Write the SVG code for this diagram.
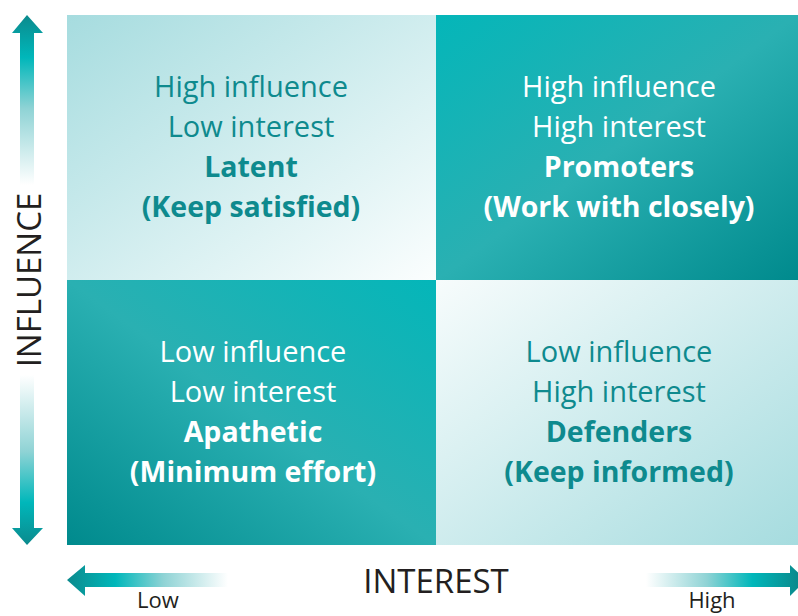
<svg xmlns="http://www.w3.org/2000/svg" width="798" height="616" viewBox="0 0 798 616">
<defs>
<linearGradient id="gTL" x1="0" y1="0" x2="1" y2="1"><stop offset="0" stop-color="#a6dcdf"/><stop offset="1" stop-color="#fbfefe"/></linearGradient>
<linearGradient id="gBR" x1="0" y1="0" x2="1" y2="1"><stop offset="0" stop-color="#f7fcfc"/><stop offset="1" stop-color="#a6dcdf"/></linearGradient>
<linearGradient id="gTR" x1="0" y1="0" x2="1" y2="1"><stop offset="0" stop-color="#04b6b9"/><stop offset="0.5" stop-color="#2ab0b2"/><stop offset="1" stop-color="#008a8d"/></linearGradient>
<linearGradient id="gBL" x1="1" y1="0" x2="0" y2="1"><stop offset="0" stop-color="#04b6b9"/><stop offset="0.5" stop-color="#2ab0b2"/><stop offset="1" stop-color="#008a8d"/></linearGradient>
<linearGradient id="gUp" gradientUnits="userSpaceOnUse" x1="0" y1="15" x2="0" y2="185"><stop offset="0" stop-color="#0b8a8d"/><stop offset="0.25" stop-color="#00b7ba"/><stop offset="0.55" stop-color="#8fd3d5"/><stop offset="1" stop-color="#ffffff"/></linearGradient>
<linearGradient id="gDn" gradientUnits="userSpaceOnUse" x1="0" y1="545" x2="0" y2="375"><stop offset="0" stop-color="#0b8a8d"/><stop offset="0.25" stop-color="#00b7ba"/><stop offset="0.55" stop-color="#8fd3d5"/><stop offset="1" stop-color="#ffffff"/></linearGradient>
<linearGradient id="gLf" gradientUnits="userSpaceOnUse" x1="67" y1="0" x2="228" y2="0"><stop offset="0" stop-color="#0b8a8d"/><stop offset="0.3" stop-color="#00b7ba"/><stop offset="0.6" stop-color="#8fd3d5"/><stop offset="1" stop-color="#ffffff"/></linearGradient>
<linearGradient id="gRt" gradientUnits="userSpaceOnUse" x1="798" y1="0" x2="646" y2="0"><stop offset="0" stop-color="#0b8a8d"/><stop offset="0.3" stop-color="#00b7ba"/><stop offset="0.6" stop-color="#8fd3d5"/><stop offset="1" stop-color="#ffffff"/></linearGradient>
<style>
.q{font-family:"Open Sans","Liberation Sans",sans-serif;font-size:29px;text-anchor:middle}
.b{font-weight:bold;font-size:28.5px}
.teal{fill:#0e8a8e}
.white{fill:#ffffff}
.ax{font-family:"Open Sans","Liberation Sans",sans-serif;fill:#231f20;text-anchor:middle}
</style>
</defs>
<g id="quadrant-latent">
<rect x="67" y="15" width="369" height="265" fill="url(#gTL)"/>
<text class="q teal" x="251" y="97">High influence</text>
<text class="q teal" x="251" y="137">Low interest</text>
<text class="q teal b" x="251" y="177">Latent</text>
<text class="q teal b" x="251" y="217">(Keep satisfied)</text>
</g>
<g id="quadrant-promoters">
<rect x="436" y="15" width="362" height="265" fill="url(#gTR)"/>
<text class="q white" x="619" y="97">High influence</text>
<text class="q white" x="619" y="137">High interest</text>
<text class="q white b" x="619" y="177">Promoters</text>
<text class="q white b" x="619" y="217">(Work with closely)</text>
</g>
<g id="quadrant-apathetic">
<rect x="67" y="280" width="369" height="265" fill="url(#gBL)"/>
<text class="q white" x="253" y="362">Low influence</text>
<text class="q white" x="253" y="402">Low interest</text>
<text class="q white b" x="253" y="442">Apathetic</text>
<text class="q white b" x="253" y="482">(Minimum effort)</text>
</g>
<g id="quadrant-defenders">
<rect x="436" y="280" width="362" height="265" fill="url(#gBR)"/>
<text class="q teal" x="619" y="362">Low influence</text>
<text class="q teal" x="619" y="402">High interest</text>
<text class="q teal b" x="619" y="442">Defenders</text>
<text class="q teal b" x="619" y="482">(Keep informed)</text>
</g>
<g id="connectors">
<path d="M20,185 L20,33 L12,33 L27,15 L43,33 L34,33 L34,185 Z" fill="url(#gUp)"/>
<path d="M20,375 L20,528 L12,528 L27,545 L43,528 L34,528 L34,375 Z" fill="url(#gDn)"/>
<path d="M228,573 L85,573 L85,565 L67,580 L85,596 L85,587 L228,587 Z" fill="url(#gLf)"/>
<path d="M646,573 L790,573 L790,565 L806,580 L790,596 L790,587 L646,587 Z" fill="url(#gRt)"/>
</g>
<g id="labels">
<text class="ax" transform="translate(41,280) rotate(-90)" font-size="33">INFLUENCE</text>
<text class="ax" x="436" y="593" font-size="33">INTEREST</text>
<text class="ax" x="158" y="608" font-size="22">Low</text>
<text class="ax" x="712" y="608" font-size="22">High</text>
</g>
</svg>
